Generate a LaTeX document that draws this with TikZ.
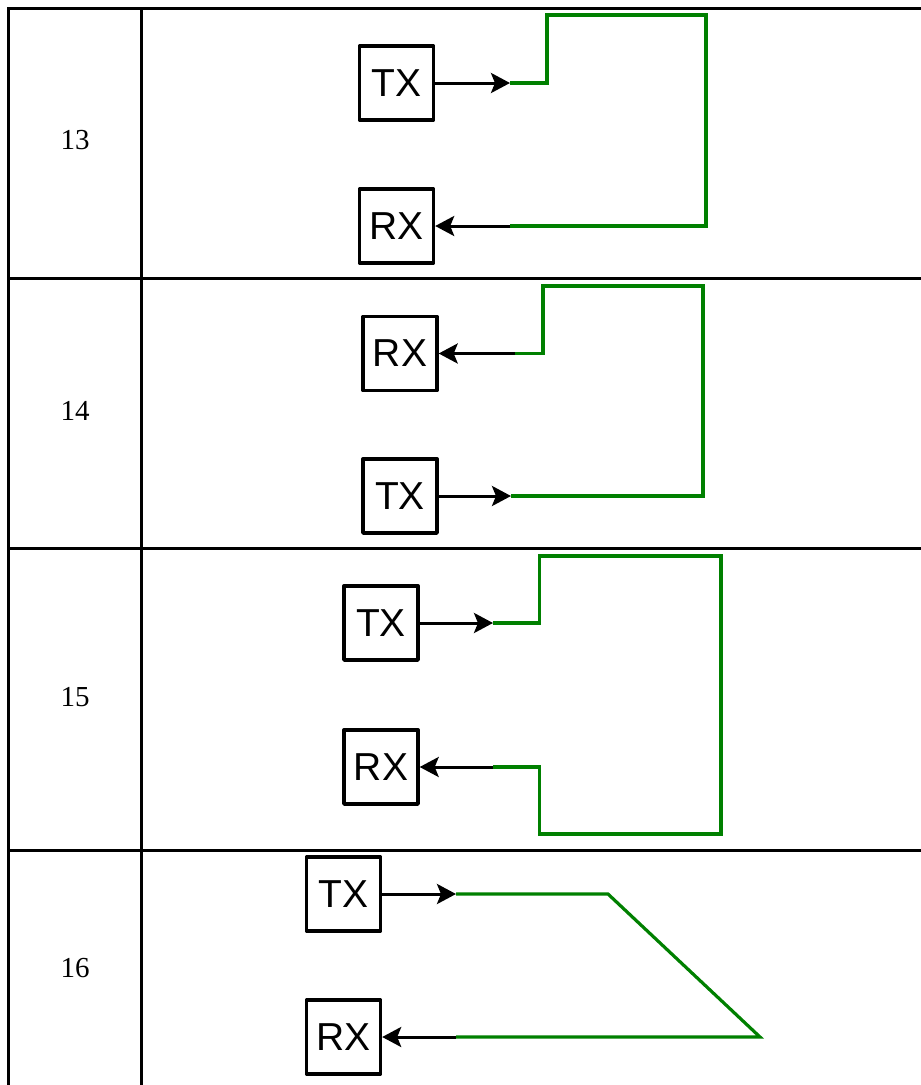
\documentclass[tikz,border=0pt]{standalone}
\usepackage{fontspec}
\setmainfont{Liberation Serif}
\newfontfamily\boxfont{Liberation Sans}
\usetikzlibrary{arrows.meta}
\definecolor{wire}{HTML}{008000}
\begin{document}
\begin{tikzpicture}[x=1pt,y=-1pt,
  grid/.style={line width=3pt},
  unit/.style={draw,line width=3.4pt,line join=round,minimum width=74pt,minimum height=74pt,inner sep=0pt,font=\boxfont\fontsize{39}{39}\selectfont},
  num/.style={font=\fontsize{29}{29}\selectfont},
  sig/.style={line width=3pt,-{Stealth[length=19pt,width=20pt,inset=4pt]}},
  wirepath/.style={draw=wire,line width=3.2pt,line join=miter}]
\useasboundingbox (0,0) rectangle (921,1085);
% table
\draw[grid] (8,8.5) -- (921,8.5);
\draw[grid] (8,278.5) -- (921,278.5);
\draw[grid] (8,548) -- (921,548);
\draw[grid] (8,850) -- (921,850);
\draw[grid] (8,7) -- (8,1085);
\draw[grid] (141,7) -- (141,1085);
% numbers
\node[num] (n13) at (75,140) {13};
\node[num] (n14) at (75,411) {14};
\node[num] (n15) at (75,697) {15};
\node[num] (n16) at (75,968) {16};
% row 13
\node[unit] (tx13) at (396.5,83) {TX};
\node[unit] (rx13) at (396.5,226) {RX};
\coordinate (a13) at (510,83);
\coordinate (b13) at (510,226);
\draw[sig] (tx13.east) -- (a13);
\draw[sig] (b13) -- (rx13.east);
\draw[wirepath] (a13) -- (547,83) -- (547,15) -- (706,15) -- (706,226) -- (b13);
% row 14
\node[unit] (rx14) at (400,353.5) {RX};
\node[unit] (tx14) at (400,496) {TX};
\coordinate (a14) at (511,496);
\coordinate (b14) at (515,353.5);
\draw[sig] (tx14.east) -- (a14);
\draw[sig] (b14) -- (rx14.east);
\draw[wirepath] (b14) -- (543,353.5) -- (543,286) -- (703,286) -- (703,496) -- (a14);
% row 15
\node[unit] (tx15) at (381,623) {TX};
\node[unit] (rx15) at (381,767) {RX};
\coordinate (a15) at (493,623);
\coordinate (b15) at (493,767);
\draw[sig] (tx15.east) -- (a15);
\draw[sig] (b15) -- (rx15.east);
\draw[wirepath] (a15) -- (539.5,623) -- (539.5,556) -- (721,556) -- (721,834) -- (539.5,834) -- (539.5,767) -- (b15);
% row 16
\node[unit] (tx16) at (343.5,894) {TX};
\node[unit] (rx16) at (343.5,1037) {RX};
\coordinate (a16) at (456,894);
\coordinate (b16) at (456,1037);
\draw[sig] (tx16.east) -- (a16);
\draw[sig] (b16) -- (rx16.east);
\draw[wirepath] (a16) -- (608,894) -- (760,1037) -- (b16);
\end{tikzpicture}
\end{document}
